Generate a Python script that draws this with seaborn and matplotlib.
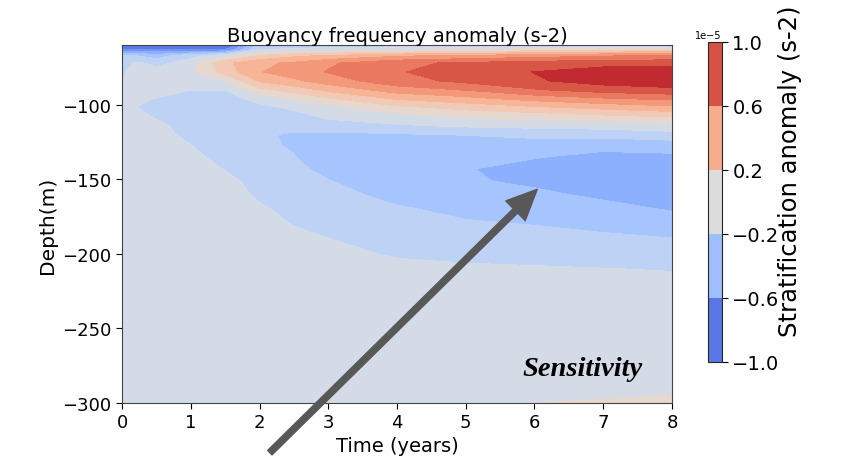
import numpy as np
import seaborn as sns
import matplotlib
matplotlib.use("Agg")
import matplotlib.pyplot as plt
from matplotlib.colors import BoundaryNorm, ListedColormap
from matplotlib.cm import ScalarMappable

# time axis (years) and depth axis (m) of the read-off grid
time_years = [0, 0.25, 0.5, 1, 1.5, 2, 2.5, 3, 4, 5, 6, 7, 8]
depth_m = [-60, -63, -67, -72, -78, -84, -90, -96, -102, -108, -114, -120, -127,
           -135, -143, -151, -160, -170, -180, -190, -200, -210, -225, -250,
           -280, -295, -300]

# buoyancy frequency anomaly, units of 1e-5 s-2, one row per depth
n2_anom = [
    [-0.95, -0.95, -0.95, -0.95, -0.95, -0.20, -0.20, -0.20, -0.20, -0.20, -0.20, -0.20, -0.20],
    [-0.72, -0.72, -0.72, -0.72, -0.72, -0.15, -0.12, -0.10, -0.05, 0.00, 0.05, 0.10, 0.10],
    [-0.25, -0.30, -0.35, -0.20, -0.05, 0.15, 0.25, 0.30, 0.40, 0.45, 0.50, 0.55, 0.60],
    [-0.18, -0.12, -0.20, -0.05, 0.25, 0.40, 0.45, 0.55, 0.68, 0.74, 0.78, 0.80, 0.80],
    [-0.16, -0.07, -0.07, -0.03, 0.20, 0.42, 0.50, 0.58, 0.70, 0.80, 0.86, 0.93, 0.96],
    [-0.15, -0.07, -0.05, -0.07, 0.00, 0.30, 0.40, 0.50, 0.66, 0.75, 0.84, 0.92, 0.96],
    [-0.10, -0.08, -0.09, -0.14, -0.14, 0.10, 0.20, 0.32, 0.50, 0.58, 0.70, 0.78, 0.82],
    [-0.07, -0.12, -0.15, -0.20, -0.20, -0.10, 0.02, 0.12, 0.30, 0.38, 0.48, 0.55, 0.60],
    [-0.07, -0.15, -0.20, -0.22, -0.22, -0.18, -0.12, -0.05, 0.10, 0.18, 0.25, 0.32, 0.38],
    [-0.07, -0.10, -0.16, -0.22, -0.22, -0.22, -0.20, -0.12, -0.05, 0.02, 0.05, 0.10, 0.15],
    [-0.07, -0.07, -0.10, -0.21, -0.22, -0.24, -0.25, -0.20, -0.16, -0.12, -0.10, -0.08, -0.05],
    [-0.07, -0.07, -0.07, -0.20, -0.22, -0.27, -0.30, -0.32, -0.30, -0.28, -0.25, -0.24, -0.20],
    [-0.07, -0.07, -0.07, -0.14, -0.22, -0.26, -0.30, -0.36, -0.38, -0.36, -0.35, -0.38, -0.36],
    [-0.07, -0.07, -0.07, -0.10, -0.20, -0.23, -0.28, -0.36, -0.40, -0.40, -0.42, -0.47, -0.46],
    [-0.07, -0.07, -0.07, -0.07, -0.15, -0.22, -0.25, -0.33, -0.40, -0.42, -0.48, -0.52, -0.53],
    [-0.07, -0.07, -0.07, -0.07, -0.10, -0.20, -0.23, -0.28, -0.38, -0.41, -0.46, -0.50, -0.52],
    [-0.07, -0.07, -0.07, -0.07, -0.07, -0.17, -0.22, -0.24, -0.33, -0.37, -0.40, -0.46, -0.49],
    [-0.07, -0.07, -0.07, -0.07, -0.07, -0.12, -0.19, -0.21, -0.27, -0.32, -0.34, -0.38, -0.44],
    [-0.07, -0.07, -0.07, -0.07, -0.07, -0.08, -0.15, -0.18, -0.23, -0.27, -0.29, -0.32, -0.36],
    [-0.07, -0.07, -0.07, -0.07, -0.07, -0.07, -0.10, -0.14, -0.20, -0.22, -0.24, -0.26, -0.28],
    [-0.07, -0.07, -0.07, -0.07, -0.07, -0.07, -0.08, -0.10, -0.16, -0.18, -0.19, -0.20, -0.22],
    [-0.07, -0.07, -0.07, -0.07, -0.07, -0.07, -0.07, -0.08, -0.10, -0.12, -0.13, -0.14, -0.15],
    [-0.07, -0.07, -0.07, -0.07, -0.07, -0.07, -0.07, -0.07, -0.08, -0.08, -0.08, -0.08, -0.09],
    [-0.07, -0.07, -0.07, -0.07, -0.07, -0.07, -0.07, -0.07, -0.07, -0.07, -0.07, -0.07, -0.07],
    [-0.07, -0.07, -0.07, -0.07, -0.07, -0.07, -0.07, -0.07, -0.07, -0.07, -0.06, -0.06, -0.06],
    [-0.07, -0.07, -0.07, -0.07, -0.07, -0.07, -0.07, -0.07, -0.07, -0.07, -0.06, -0.03, 0.00],
    [-0.07, -0.07, -0.07, -0.07, -0.07, -0.07, -0.07, -0.07, -0.07, -0.07, 0.00, 0.04, 0.06],
]

# colorbar bins (units of 1e-5)
cbar_bounds = [-1.0, -0.6, -0.2, 0.2, 0.6, 1.0]

sns.set_style("ticks")
plt.rcParams["font.family"] = ["DejaVu Sans"]
plt.rcParams.update({"text.color": "black", "axes.labelcolor": "black",
                     "xtick.color": "black", "ytick.color": "black"})
cmap = sns.color_palette("coolwarm", as_cmap=True)

T, D = np.meshgrid(time_years, depth_m)
Z = np.array(n2_anom) * 1e-5

fig = plt.figure(figsize=(8.58, 4.6), dpi=100)
ax = fig.add_axes([0.1422, 0.1217, 0.641, 0.778])
levels = np.linspace(-1e-5, 1e-5, 15)
ax.contourf(T, D, Z, levels=levels, cmap=cmap)

ax.set_xlim(0, 8)
ax.set_ylim(-300, -60)
ax.set_xticks(range(0, 9))
ax.set_yticks([-300, -250, -200, -150, -100])
ax.tick_params(labelsize=13, length=4, direction="out")
ax.set_xlabel("Time (years)", fontsize=14, labelpad=3)
ax.set_ylabel("Depth(m)", fontsize=14.5, labelpad=4)
ax.set_title("Buoyancy frequency anomaly (s-2)", fontsize=14, pad=3)
for sp in ax.spines.values():
    sp.set_color("#444444")

# colorbar with coarse bins
bounds = np.array(cbar_bounds) * 1e-5
mids = [(i + 0.5) / 5 for i in range(5)]
bin_cmap = ListedColormap([cmap(m) for m in mids])
sm = ScalarMappable(norm=BoundaryNorm(bounds, bin_cmap.N), cmap=bin_cmap)
cax = fig.add_axes([0.825, 0.211, 0.0163, 0.696])
cb = fig.colorbar(sm, cax=cax, ticks=bounds)
cax.tick_params(labelsize=14, length=4)
cax.yaxis.get_offset_text().set_fontsize(7)
cb.set_label("Stratification anomaly (s-2)", fontsize=17.5)
cax.yaxis.set_label_coords(5.0, 0.6)

# annotations
ax.annotate("", xy=(6.04, -156.7), xytext=(2.15, -333.3),
            arrowprops=dict(facecolor="#585858", edgecolor="#585858", width=4.5,
                            headwidth=20, headlength=22, shrink=0),
            annotation_clip=False)
ax.text(6.7, -277, "Sensitivity", fontsize=20.5, fontstyle="italic", fontweight="bold",
        family="Liberation Serif", ha="center", va="center", color="black")

fig.savefig("out.png", dpi=100)
